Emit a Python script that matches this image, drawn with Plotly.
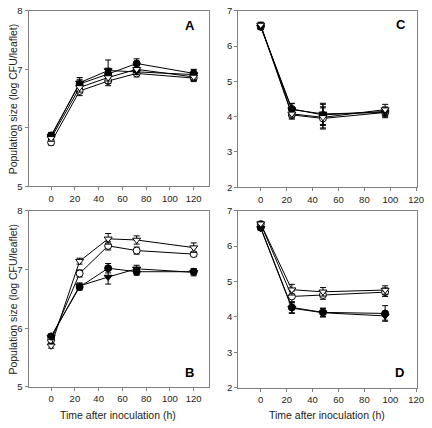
import plotly.graph_objects as go

# ---- data ----
t_A = [0, 24, 48, 72, 120]
A_fc = [5.87, 6.75, 6.92, 7.10, 6.93]
A_oc = [5.75, 6.63, 6.80, 6.93, 6.85]
A_ft = [5.85, 6.77, 6.98, 6.96, 6.91]
A_ot = [5.82, 6.69, 6.86, 7.00, 6.87]
A_fc_e = [0.05, 0.08, 0.10, 0.08, 0.07]
A_oc_e = [0.05, 0.08, 0.08, 0.06, 0.06]
A_ft_e = [0.05, 0.09, 0.18, 0.05, 0.08]
A_ot_e = [0.05, 0.08, 0.10, 0.06, 0.06]

t_C = [0, 24, 48, 96]
C_fc = [6.55, 4.22, 4.05, 4.15]
C_oc = [6.58, 4.05, 3.95, 4.12]
C_ft = [6.55, 4.20, 4.08, 4.12]
C_ot = [6.60, 4.08, 3.98, 4.20]
C_fc_e = [0.08, 0.15, 0.30, 0.12]
C_oc_e = [0.08, 0.12, 0.30, 0.15]
C_ft_e = [0.08, 0.18, 0.30, 0.12]
C_ot_e = [0.08, 0.12, 0.30, 0.15]

t_B = [0, 24, 48, 72, 120]
B_fc = [5.86, 6.70, 7.02, 6.96, 6.96]
B_oc = [5.80, 6.93, 7.40, 7.32, 7.26]
B_ft = [5.85, 6.72, 6.87, 7.01, 6.95]
B_ot = [5.70, 7.14, 7.52, 7.50, 7.37]
B_fc_e = [0.04, 0.05, 0.08, 0.06, 0.05]
B_oc_e = [0.04, 0.06, 0.07, 0.06, 0.04]
B_ft_e = [0.04, 0.05, 0.12, 0.06, 0.06]
B_ot_e = [0.04, 0.05, 0.09, 0.07, 0.08]

t_D = [0, 24, 48, 96]
D_fc = [6.52, 4.27, 4.13, 4.10]
D_oc = [6.62, 4.58, 4.62, 4.70]
D_ft = [6.50, 4.25, 4.12, 4.03]
D_ot = [6.63, 4.77, 4.71, 4.76]
D_fc_e = [0.05, 0.15, 0.12, 0.22]
D_oc_e = [0.06, 0.15, 0.12, 0.12]
D_ft_e = [0.05, 0.15, 0.12, 0.12]
D_ot_e = [0.06, 0.15, 0.12, 0.12]

x_ticks = [0, 20, 40, 60, 80, 100, 120]
y_ticks_AB = [5, 6, 7, 8]
y_ticks_CD = [2, 3, 4, 5, 6, 7]
panel_labels = ["A", "C", "B", "D"]
x_title = "Time after inoculation (h)"
y_title = "Population size (log CFU/leaflet)"

styles = [
    ("circle", "black"),
    ("circle", "white"),
    ("triangle-down", "black"),
    ("triangle-down", "white"),
]

panels = [
    (t_A, [A_fc, A_oc, A_ft, A_ot], [A_fc_e, A_oc_e, A_ft_e, A_ot_e], "x", "y"),
    (t_C, [C_fc, C_oc, C_ft, C_ot], [C_fc_e, C_oc_e, C_ft_e, C_ot_e], "x2", "y2"),
    (t_B, [B_fc, B_oc, B_ft, B_ot], [B_fc_e, B_oc_e, B_ft_e, B_ot_e], "x3", "y3"),
    (t_D, [D_fc, D_oc, D_ft, D_ot], [D_fc_e, D_oc_e, D_ft_e, D_ot_e], "x4", "y4"),
]

fig = go.Figure()
for t, series, errs, xa, ya in panels:
    for (sym, fill), ys, es in zip(styles, series, errs):
        fig.add_trace(go.Scatter(
            x=t, y=ys, mode="lines+markers", xaxis=xa, yaxis=ya,
            line=dict(color="black", width=1),
            marker=dict(symbol=sym, color=fill, size=7,
                        line=dict(color="black", width=1)),
            error_y=dict(type="data", array=es, visible=True,
                         color="black", thickness=1, width=3),
            showlegend=False,
        ))

W, H = 432, 428
def px_x(a, b):
    return [a / W, b / W]
def px_y(top, bot):
    return [1 - bot / H, 1 - top / H]

axis_common = dict(showline=True, linecolor="#808080", linewidth=1, mirror=True,
                   ticks="outside", ticklen=3, tickcolor="#808080",
                   showgrid=False, zeroline=False,
                   tickfont=dict(family="Arial, Liberation Sans", size=9.5, color="#222"))

layout = dict(
    width=W, height=H, margin=dict(l=0, r=0, t=0, b=0),
    paper_bgcolor="white", plot_bgcolor="white",
    xaxis=dict(domain=px_x(29, 212), range=[-19, 132.5], tickvals=x_ticks, anchor="y", **axis_common),
    yaxis=dict(domain=px_y(5, 185), range=[5, 8], tickvals=y_ticks_AB, anchor="x", **axis_common),
    xaxis2=dict(domain=px_x(242, 424), range=[-17.5, 120.7], tickvals=x_ticks, anchor="y2", **axis_common),
    yaxis2=dict(domain=px_y(5, 186), range=[2, 7], tickvals=y_ticks_CD, anchor="x2", **axis_common),
    xaxis3=dict(domain=px_x(29, 212), range=[-19, 132.5], tickvals=x_ticks, anchor="y3", **axis_common),
    yaxis3=dict(domain=px_y(210, 391), range=[5, 8], tickvals=y_ticks_AB, anchor="x3", **axis_common),
    xaxis4=dict(domain=px_x(242, 424), range=[-17.5, 120.7], tickvals=x_ticks, anchor="y4", **axis_common),
    yaxis4=dict(domain=px_y(210, 392), range=[2, 7], tickvals=y_ticks_CD, anchor="x4", **axis_common),
)
fig.update_layout(**layout)

font_lab = dict(family="Arial, Liberation Sans", size=13, color="black")
label_pos = [(193, 20), (408, 19), (193, 376), (406, 376)]
for lab, (px, py) in zip(panel_labels, label_pos):
    fig.add_annotation(x=px / W, y=1 - py / H, xref="paper", yref="paper",
                       xanchor="center", yanchor="middle",
                       text="<b>%s</b>" % lab, showarrow=False, font=font_lab)

font_title = dict(family="Arial, Liberation Sans", size=10.5, color="#222")
for cy in (95, 300.5):
    fig.add_annotation(x=13 / W, y=1 - cy / H, xref="paper", yref="paper",
                       xanchor="center", yanchor="middle",
                       text=y_title, textangle=-90, showarrow=False, font=font_title)
for cx in (120, 332):
    fig.add_annotation(x=cx / W, y=1 - 420 / H, xref="paper", yref="paper",
                       xanchor="center", yanchor="middle",
                       text=x_title, showarrow=False, font=font_title)

fig.write_html("out.html", config={"displayModeBar": False},
               post_script="document.body.style.margin='0';")
